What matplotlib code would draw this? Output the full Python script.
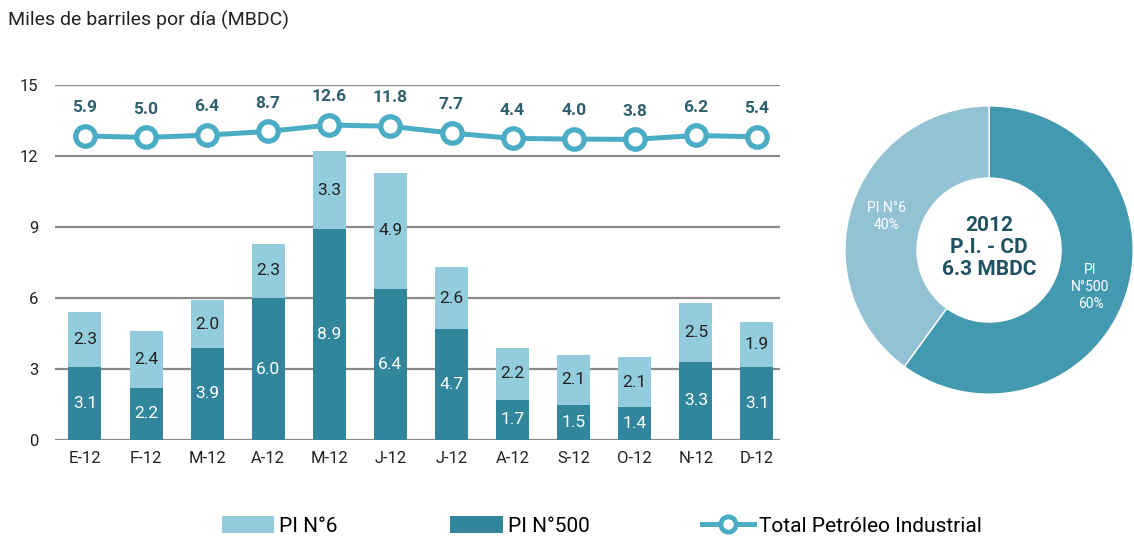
import matplotlib
matplotlib.use("Agg")
import matplotlib.pyplot as plt
from matplotlib.lines import Line2D
from matplotlib.patches import Patch
from matplotlib import font_manager

names = {f.name for f in font_manager.fontManager.ttflist}
base = "Liberation Sans Narrow" if "Liberation Sans Narrow" in names else "Roboto"
plt.rcParams["font.family"] = [base, "DejaVu Sans"]

months = ["E-12", "F-12", "M-12", "A-12", "M-12", "J-12", "J-12", "A-12", "S-12", "O-12", "N-12", "D-12"]
pi500 = [3.1, 2.2, 3.9, 6.0, 8.9, 6.4, 4.7, 1.7, 1.5, 1.4, 3.3, 3.1]
pi6 = [2.3, 2.4, 2.0, 2.3, 3.3, 4.9, 2.6, 2.2, 2.1, 2.1, 2.5, 1.9]
total = [5.9, 5.0, 6.4, 8.7, 12.6, 11.8, 7.7, 4.4, 4.0, 3.8, 6.2, 5.4]
share_labels = ["PI\nN°500\n60%", "PI N°6\n40%"]
share_values = [60, 40]

C_DARK = "#31869c"
C_LIGHT = "#93cddd"
C_LINE = "#4bacc6"
C_LBL = "#2e5f6f"
C_PIE_DARK = "#4299b0"
C_PIE_LIGHT = "#92c2d3"

fig = plt.figure(figsize=(11.34, 5.41), dpi=100)
ax = fig.add_axes([0.0485, 0.1867, 0.6395, 0.656])

x = list(range(len(months)))
ax.bar(x, pi500, width=0.54, color=C_DARK, zorder=3)
ax.bar(x, pi6, width=0.54, bottom=pi500, color=C_LIGHT, zorder=3)
for i in x:
    ax.text(i, pi500[i] / 2, f"{pi500[i]:.1f}", ha="center", va="center",
            color="white", fontsize=12.5, zorder=4)
    ax.text(i, pi500[i] + pi6[i] / 2, f"{pi6[i]:.1f}", ha="center", va="center",
            color="#222222", fontsize=12.5, zorder=4)

ax.set_ylim(0, 15)
ax.set_xlim(-0.49, 11.38)
ax.set_yticks([0, 3, 6, 9, 12, 15])
ax.set_xticks(x)
ax.set_xticklabels(months)
ax.tick_params(length=0, labelsize=12, pad=8, colors="#222222")
ax.tick_params(axis="y", pad=12)
ax.grid(axis="y", color="#8a8a8a", linewidth=1.6, zorder=1)
for s in ax.spines.values():
    s.set_visible(False)

# Total series on its own hidden scale, riding near the top of the panel
ax2 = ax.twinx()
ax2.set_ylim(-180, 37)
ax2.plot(x, total, color=C_LINE, linewidth=3.6, marker="o", markersize=14,
         markerfacecolor="white", markeredgecolor=C_LINE, markeredgewidth=3.8, zorder=5)
for i in x:
    ax2.annotate(f"{total[i]:.1f}", (i, total[i]), xytext=(0, 15), textcoords="offset points",
                 ha="center", va="bottom", color=C_LBL, fontsize=12.5, fontweight="bold")
ax2.set_yticks([])
for s in ax2.spines.values():
    s.set_visible(False)

fig.text(0.007, 0.963, "Miles de barriles por día (MBDC)", fontsize=14, color="#222222",
         ha="left", va="center")

# Donut with the yearly split
pax = fig.add_axes([0.7399, 0.2606, 0.2646, 0.5545])
wedges, _ = pax.pie(share_values, colors=[C_PIE_DARK, C_PIE_LIGHT], startangle=90,
                    counterclock=False, radius=0.98,
                    wedgeprops=dict(width=0.49, edgecolor="white", linewidth=1))
pax.set_xlim(-1.02, 1.02)
pax.set_ylim(-1.02, 1.02)
pax.set_aspect("equal")
pax.text(0.69, -0.25, share_labels[0], ha="center", va="center", color="white",
         fontsize=10, linespacing=1.25)
pax.text(-0.70, 0.23, share_labels[1], ha="center", va="center", color="white",
         fontsize=10, linespacing=1.25)
pax.text(0.0, 0.02, "2012\nP.I. - CD\n6.3 MBDC", ha="center", va="center", color="#1f5160",
         fontsize=15, fontweight="bold", linespacing=1.2)

handles = [
    Patch(facecolor=C_LIGHT, edgecolor="none"),
    Patch(facecolor=C_DARK, edgecolor="none"),
    Line2D([], [], color=C_LINE, linewidth=3.6, marker="o", markersize=11,
           markerfacecolor="white", markeredgecolor=C_LINE, markeredgewidth=3.5),
]
fig.legend(handles, ["PI N°6", "PI N°500", "Total Petróleo Industrial"], loc="center",
           bbox_to_anchor=(0.531, 0.028), ncol=3, frameon=False, fontsize=15,
           handlelength=2.5, handleheight=0.9, handletextpad=0.25, columnspacing=5.4)

fig.savefig("out.png", dpi=100)
